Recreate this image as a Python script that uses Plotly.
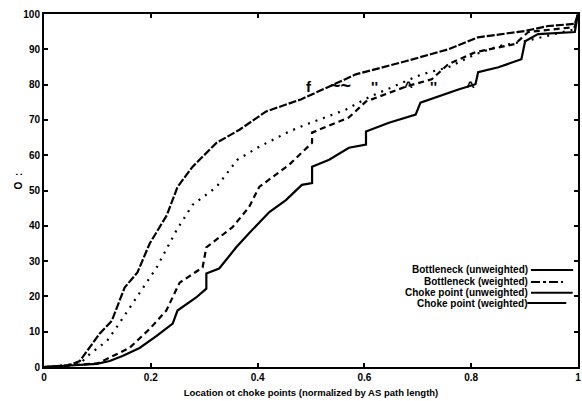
import plotly.graph_objects as go

# ---- data ----
bn_unw_x = [0.0, 0.043, 0.067, 0.104, 0.127, 0.151, 0.175, 0.198, 0.230, 0.250, 0.278, 0.323, 0.366,
            0.416, 0.481, 0.584, 0.677, 0.757, 0.813, 0.901, 0.944, 0.994, 1.0]
bn_unw_y = [0.0, 0.3, 1.7, 9.4, 13.1, 22.5, 26.8, 35.0, 43.0, 51.0, 56.7, 63.5, 67.2,
            72.4, 75.8, 82.9, 86.6, 90.0, 93.4, 95.2, 96.6, 97.2, 100.0]

bn_w_x = [0.0, 0.067, 0.086, 0.118, 0.138, 0.175, 0.211, 0.248, 0.278, 0.323, 0.362, 0.403, 0.459,
          0.491, 0.565, 0.608, 0.707, 0.757, 0.808, 0.851, 0.901, 0.994, 1.0]
bn_w_y = [0.0, 0.9, 3.7, 7.4, 11.7, 20.2, 28.2, 38.7, 45.9, 51.0, 58.7, 62.4, 66.7,
          68.7, 72.9, 76.4, 82.9, 84.9, 88.6, 90.9, 92.3, 95.7, 100.0]

cp_unw_x = [0.0, 0.10, 0.129, 0.160, 0.198, 0.229, 0.254, 0.297, 0.304, 0.353, 0.384, 0.403, 0.459,
            0.502, 0.502, 0.571, 0.603, 0.679, 0.726, 0.757, 0.808, 0.882, 0.907, 0.994, 1.0]
cp_unw_y = [0.0, 1.0, 3.1, 5.4, 10.8, 16.0, 23.9, 28.2, 33.9, 39.6, 45.3, 51.0, 57.3,
            63.5, 66.4, 70.7, 75.2, 79.5, 81.5, 85.8, 89.2, 91.5, 94.9, 96.3, 100.0]

cp_w_x = [0.0, 0.099, 0.123, 0.147, 0.179, 0.211, 0.241, 0.250, 0.285, 0.304, 0.304, 0.328, 0.360,
          0.384, 0.422, 0.453, 0.483, 0.502, 0.502, 0.534, 0.571, 0.603, 0.603, 0.646, 0.696,
          0.705, 0.776, 0.808, 0.813, 0.851, 0.894, 0.901, 0.925, 0.994, 1.0]
cp_w_y = [0.0, 0.9, 1.7, 3.1, 5.4, 8.8, 12.3, 16.0, 19.7, 22.2, 26.5, 27.9, 33.9,
          37.9, 43.9, 47.3, 51.6, 52.1, 56.7, 58.7, 62.1, 63.0, 66.7, 69.2, 71.5,
          74.9, 78.6, 80.1, 83.5, 84.9, 87.2, 92.3, 94.3, 94.9, 100.0]

series_names = ["Bottleneck (unweighted)", "Bottleneck (weighted)",
                "Choke point (unweighted)", "Choke point (weighted)"]
x_tick_vals = [0, 0.2, 0.4, 0.6, 0.8, 1]
x_tick_text = ["0", "0.2", "0.4", "0.6", "0.8", "1"]
y_tick_vals = [0, 10, 20, 30, 40, 50, 60, 70, 80, 90, 100]
x_title = "Location ot choke points (normalized by AS path length)"
y_title = "O  :"
garble_glyphs = ["f", "~~", "''", "^", "''", "^"]
garble_x = [0.496, 0.556, 0.618, 0.683, 0.729, 0.799]
garble_y = 79.5

FONT = "Liberation Sans, Arial, sans-serif"
dashes = ["8px,2px", "2px,6px", "6px,4px", "solid"]
legend_dash = ["solid", "dashdot", "solid", "solid"]

fig = go.Figure()
for xs, ys, name, d in zip([bn_unw_x, bn_w_x, cp_unw_x, cp_w_x],
                           [bn_unw_y, bn_w_y, cp_unw_y, cp_w_y],
                           series_names, dashes):
    fig.add_trace(go.Scatter(x=xs, y=ys, mode="lines", name=name,
                             line=dict(color="black", width=2.2, dash=d),
                             showlegend=False))

# manual legend (text right-aligned, sample line to the right)
leg_y = [0.275, 0.241, 0.210, 0.181]
leg_x0 = [0.912, 0.912, 0.912, 0.905]
leg_x1 = [0.991, 0.972, 0.99, 0.978]
for name, yy, x0, x1, ld in zip(series_names, leg_y, leg_x0, leg_x1, legend_dash):
    fig.add_annotation(x=0.910, y=yy, xref="paper", yref="paper", text=name,
                       showarrow=False, xanchor="right", yanchor="middle",
                       font=dict(family=FONT, size=10, color="black", weight="bold"))
    fig.add_shape(type="line", xref="paper", yref="paper", x0=x0, x1=x1, y0=yy, y1=yy,
                  line=dict(color="black", width=2, dash=ld))

for g, gx in zip(garble_glyphs, garble_x):
    fig.add_annotation(x=gx, y=garble_y, xref="x", yref="y", text=g, showarrow=False,
                       font=dict(family=FONT, size=18 if g == "~~" else 15,
                                 color="black", weight="bold"))

fig.add_annotation(x=-0.06, y=0.527, xref="paper", yref="paper", text=y_title,
                   textangle=-90, showarrow=False,
                   font=dict(family=FONT, size=10, color="black", weight="bold"))

axis_common = dict(showgrid=False, zeroline=False, showline=True, linecolor="black",
                   linewidth=2, mirror="ticks", ticks="inside", ticklen=4, tickwidth=2,
                   tickcolor="black",
                   tickfont=dict(family=FONT, size=10, color="black", weight="bold"))

fig.update_xaxes(range=[0, 1], tickvals=x_tick_vals, ticktext=x_tick_text,
                 title=dict(text=x_title, standoff=7,
                            font=dict(family=FONT, size=9.5, color="black", weight="bold")),
                 **axis_common)
fig.update_yaxes(range=[0, 100], tickvals=y_tick_vals, **axis_common)

fig.update_layout(width=582, height=401, margin=dict(l=44, r=2, t=14, b=34),
                  plot_bgcolor="white", paper_bgcolor="white", showlegend=False)

fig.write_html("out.html")
